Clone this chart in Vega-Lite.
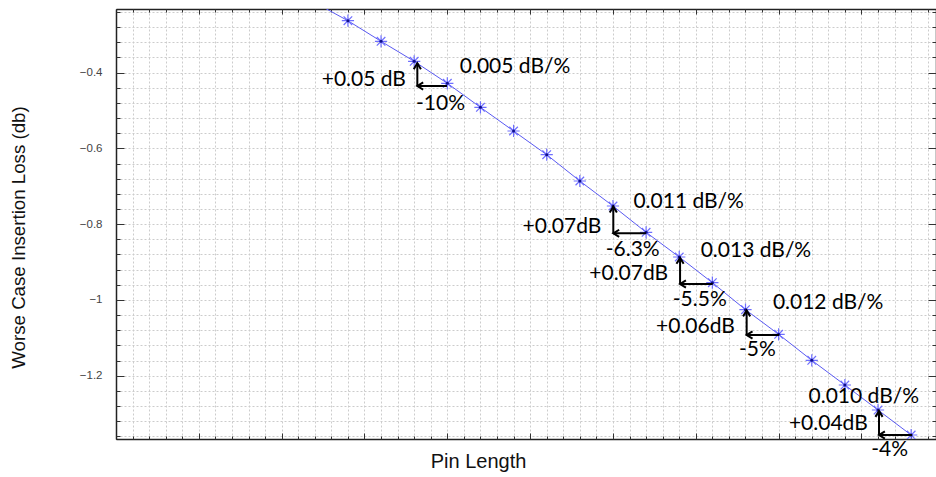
{
  "$schema": "https://vega.github.io/schema/vega-lite/v6.json",
  "width": 820,
  "height": 430,
  "autosize": {"type": "none"},
  "padding": {"left": 116, "top": 9, "right": 0, "bottom": 38},
  "background": "white",
  "config": {"view": {"stroke": null}, "font": "Liberation Sans"},
  "datasets": {
    "loss": [
      {"pin": 12, "il": -0.215},
      {"pin": 14, "il": -0.2629},
      {"pin": 16, "il": -0.3173},
      {"pin": 18, "il": -0.37},
      {"pin": 20, "il": -0.4281},
      {"pin": 22, "il": -0.4915},
      {"pin": 24, "il": -0.554},
      {"pin": 26, "il": -0.6166},
      {"pin": 28, "il": -0.686},
      {"pin": 30, "il": -0.752},
      {"pin": 32, "il": -0.8214},
      {"pin": 34, "il": -0.8866},
      {"pin": 36, "il": -0.9544},
      {"pin": 38, "il": -1.0257},
      {"pin": 40, "il": -1.0906},
      {"pin": 42, "il": -1.1593},
      {"pin": 44, "il": -1.2245},
      {"pin": 46, "il": -1.2905},
      {"pin": 48, "il": -1.3565}
    ],
    "shafts": [
      {"x": 18.19, "y": -0.4352, "x2": 18.19, "y2": -0.3753},
      {"x": 19.98, "y": -0.4352, "x2": 18.19, "y2": -0.4352},
      {"x": 30.02, "y": -0.8241, "x2": 30.02, "y2": -0.7539},
      {"x": 31.99, "y": -0.8241, "x2": 30.02, "y2": -0.8241},
      {"x": 34.05, "y": -0.9579, "x2": 34.05, "y2": -0.8892},
      {"x": 36.02, "y": -0.9579, "x2": 34.05, "y2": -0.9579},
      {"x": 38.07, "y": -1.0925, "x2": 38.07, "y2": -1.0278},
      {"x": 40.02, "y": -1.0925, "x2": 38.07, "y2": -1.0925},
      {"x": 46.06, "y": -1.3565, "x2": 46.06, "y2": -1.2931},
      {"x": 48.05, "y": -1.3565, "x2": 46.06, "y2": -1.3565}
    ],
    "heads": [
      {"x": 18.19, "y": -0.3753, "dir": "up"},
      {"x": 18.19, "y": -0.4352, "dir": "left"},
      {"x": 30.02, "y": -0.7539, "dir": "up"},
      {"x": 30.02, "y": -0.8241, "dir": "left"},
      {"x": 34.05, "y": -0.8892, "dir": "up"},
      {"x": 34.05, "y": -0.9579, "dir": "left"},
      {"x": 38.07, "y": -1.0278, "dir": "up"},
      {"x": 38.07, "y": -1.0925, "dir": "left"},
      {"x": 46.06, "y": -1.2931, "dir": "up"},
      {"x": 46.06, "y": -1.3565, "dir": "left"}
    ],
    "labels": [
      {"x": 24.09, "y": -0.4001, "t": "0.005 dB/%"},
      {"x": 14.96, "y": -0.4352, "t": "+0.05 dB"},
      {"x": 19.59, "y": -0.4999, "t": "-10%"},
      {"x": 34.57, "y": -0.7581, "t": "0.011 dB/%"},
      {"x": 26.92, "y": -0.8225, "t": "+0.07dB"},
      {"x": 31.19, "y": -0.8845, "t": "-6.3%"},
      {"x": 38.63, "y": -0.8874, "t": "0.013 dB/%"},
      {"x": 30.95, "y": -0.9485, "t": "+0.07dB"},
      {"x": 35.24, "y": -1.0159, "t": "-5.5%"},
      {"x": 42.99, "y": -1.0247, "t": "0.012 dB/%"},
      {"x": 34.98, "y": -1.0864, "t": "+0.06dB"},
      {"x": 38.72, "y": -1.1479, "t": "-5%"},
      {"x": 45.14, "y": -1.2728, "t": "0.010 dB/%"},
      {"x": 43.0, "y": -1.3433, "t": "+0.04dB"},
      {"x": 46.7, "y": -1.4119, "t": "-4%"}
    ]
  },
  "resolve": {"axis": {"x": "independent", "y": "independent"}},
  "layer": [
    {
      "data": {"name": "loss"},
      "mark": {"type": "line", "color": "#5a5af2", "strokeWidth": 1, "clip": true},
      "encoding": {
        "x": {"field": "pin", "type": "quantitative",
          "scale": {"domain": [0, 49.5], "nice": false, "zero": false},
          "axis": {"orient": "bottom", "values": [0, 5, 10, 15, 20, 25, 30, 35, 40, 45],
            "labels": false, "tickSize": -6, "tickColor": "#333", "tickWidth": 1,
            "domainColor": "#222", "domainWidth": 1.5, "grid": false,
            "title": "Pin Length", "titleFont": "Liberation Sans", "titleFontSize": 20,
            "titleFontWeight": "normal", "titleColor": "#111", "titleX": 362, "titleY": 28.7,
            "titleBaseline": "alphabetic", "titleAlign": "center"}},
        "y": {"field": "il", "type": "quantitative",
          "scale": {"domain": [-1.367, -0.232], "nice": false, "zero": false},
          "axis": {"orient": "left", "values": [-0.4, -0.6, -0.8, -1, -1.2], "format": "~g",
            "tickSize": -8, "tickColor": "#333", "tickWidth": 1, "labelPadding": 22,
            "labelFont": "Liberation Sans", "labelFontSize": 11.5, "labelColor": "#444",
            "domainColor": "#222", "domainWidth": 1.5, "grid": false,
            "title": "Worse Case Insertion Loss (db)", "titleFont": "Liberation Sans",
            "titleFontSize": 18.7, "titleFontWeight": "normal", "titleColor": "#111",
            "titleX": -97.5, "titleY": 228, "titleAngle": -90, "titleBaseline": "middle",
            "titleAlign": "center"}}
      }
    },
    {
      "data": {"name": "loss"},
      "mark": {"type": "point", "shape": "M0,-1L0,1M-1,0L1,0M-0.7,-0.7L0.7,0.7M-0.7,0.7L0.7,-0.7",
        "size": 150, "filled": false, "stroke": "#6e6eff", "strokeWidth": 1.2, "opacity": 1, "clip": true},
      "encoding": {
        "x": {"field": "pin", "type": "quantitative",
          "scale": {"domain": [0, 49.5], "nice": false, "zero": false},
          "axis": {"orient": "bottom", "values": [0,1,2,3,4,5,6,7,8,9,10,11,12,13,14,15,16,17,18,19,20,21,22,23,24,25,26,27,28,29,30,31,32,33,34,35,36,37,38,39,40,41,42,43,44,45,46,47,48,49],
            "labels": false, "tickSize": -3, "tickColor": "#333", "domain": false,
            "grid": true, "gridColor": "#cccccc", "gridDash": [2, 2], "gridWidth": 1, "title": null}},
        "y": {"field": "il", "type": "quantitative",
          "scale": {"domain": [-1.367, -0.232], "nice": false, "zero": false},
          "axis": {"orient": "left", "values": [-0.24,-0.28,-0.32,-0.36,-0.4,-0.44,-0.48,-0.52,-0.56,-0.6,-0.64,-0.68,-0.72,-0.76,-0.8,-0.84,-0.88,-0.92,-0.96,-1,-1.04,-1.08,-1.12,-1.16,-1.2,-1.24,-1.28,-1.32,-1.36],
            "labels": false, "tickSize": -4, "tickColor": "#333", "domain": false,
            "grid": true, "gridColor": "#cccccc", "gridDash": [2, 2], "gridWidth": 1, "title": null}}
      }
    },
    {
      "data": {"name": "loss"},
      "mark": {"type": "point", "shape": "circle", "size": 9, "filled": true, "color": "#10108a", "opacity": 1, "clip": true},
      "encoding": {
        "x": {"field": "pin", "type": "quantitative",
          "scale": {"domain": [0, 49.5], "nice": false, "zero": false},
          "axis": {"orient": "top", "values": [0, 5, 10, 15, 20, 25, 30, 35, 40, 45],
            "labels": false, "tickSize": -5, "tickColor": "#333", "domainColor": "#222",
            "domainWidth": 1.5, "grid": false, "title": null}},
        "y": {"field": "il", "type": "quantitative",
          "scale": {"domain": [-1.367, -0.232], "nice": false, "zero": false},
          "axis": {"orient": "right", "values": [-0.4, -0.6, -0.8, -1, -1.2],
            "labels": false, "tickSize": -8, "tickColor": "#333", "domainColor": "#222",
            "domainWidth": 1.5, "grid": false, "title": null}}
      }
    },
    {
      "data": {"name": "shafts"},
      "mark": {"type": "rule", "color": "#000", "strokeWidth": 2},
      "encoding": {
        "x": {"field": "x", "type": "quantitative",
          "scale": {"domain": [0, 49.5], "nice": false, "zero": false},
          "axis": {"orient": "top", "values": [0,1,2,3,4,5,6,7,8,9,10,11,12,13,14,15,16,17,18,19,20,21,22,23,24,25,26,27,28,29,30,31,32,33,34,35,36,37,38,39,40,41,42,43,44,45,46,47,48,49],
            "labels": false, "tickSize": -3, "tickColor": "#333", "domain": false, "grid": false, "title": null}},
        "y": {"field": "y", "type": "quantitative",
          "scale": {"domain": [-1.367, -0.232], "nice": false, "zero": false},
          "axis": {"orient": "right", "values": [-0.24,-0.28,-0.32,-0.36,-0.4,-0.44,-0.48,-0.52,-0.56,-0.6,-0.64,-0.68,-0.72,-0.76,-0.8,-0.84,-0.88,-0.92,-0.96,-1,-1.04,-1.08,-1.12,-1.16,-1.2,-1.24,-1.28,-1.32,-1.36],
            "labels": false, "tickSize": -4, "tickColor": "#333", "domain": false, "grid": false, "title": null}},
        "x2": {"field": "x2"},
        "y2": {"field": "y2"}
      }
    },
    {
      "data": {"name": "heads"},
      "mark": {"type": "point", "size": 170, "filled": false, "stroke": "#000", "strokeWidth": 2, "opacity": 1},
      "encoding": {
        "x": {"field": "x", "type": "quantitative",
          "scale": {"domain": [0, 49.5], "nice": false, "zero": false}, "axis": null},
        "y": {"field": "y", "type": "quantitative",
          "scale": {"domain": [-1.367, -0.232], "nice": false, "zero": false}, "axis": null},
        "shape": {"field": "dir", "type": "nominal",
          "scale": {"domain": ["up", "left"], "range": ["M-0.55,0.9L0,0L0.55,0.9", "M0.9,-0.55L0,0L0.9,0.55"]},
          "legend": null}
      }
    },
    {
      "data": {"name": "labels"},
      "mark": {"type": "text", "font": "Lato", "fontSize": 21, "color": "#000", "align": "center", "baseline": "alphabetic"},
      "encoding": {
        "x": {"field": "x", "type": "quantitative",
          "scale": {"domain": [0, 49.5], "nice": false, "zero": false}, "axis": null},
        "y": {"field": "y", "type": "quantitative",
          "scale": {"domain": [-1.367, -0.232], "nice": false, "zero": false}, "axis": null},
        "text": {"field": "t"}
      }
    }
  ]
}
